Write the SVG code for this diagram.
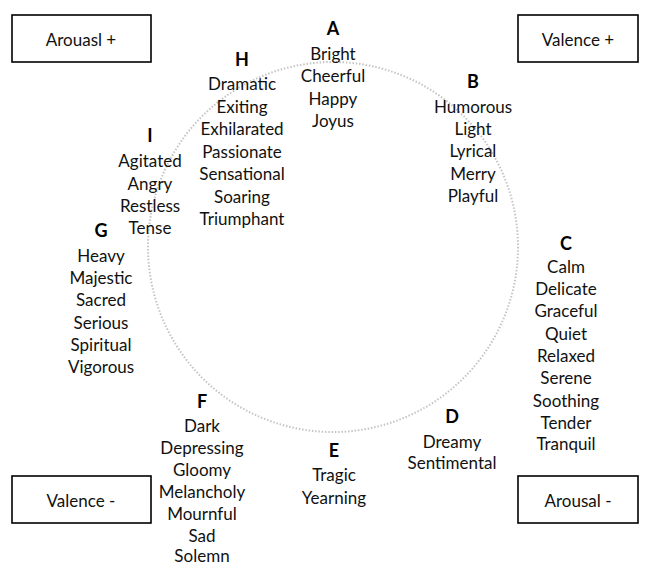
<svg xmlns="http://www.w3.org/2000/svg" width="649" height="565" viewBox="0 0 649 565">
<style>
.t{font-family:Lato,"Liberation Sans",sans-serif;font-size:17px;fill:#111;text-anchor:middle;dominant-baseline:central}
.h{font-family:Lato,"Liberation Sans",sans-serif;font-size:18px;font-weight:bold;fill:#000;text-anchor:middle;dominant-baseline:central}
.box{fill:#fff;stroke:#000;stroke-width:1.6}
.circ{fill:none;stroke:#c4c4c4;stroke-width:2;stroke-dasharray:1.5 1.8}
</style>
<rect width="649" height="565" fill="#fff"/>
<g id="connectors">
<circle class="circ" cx="333" cy="247" r="185"/>
</g>
<g id="arousal-plus"><rect class="box" x="12" y="15" width="139" height="47"/><text class="t" x="81" y="39">Arouasl +</text></g>
<g id="valence-plus"><rect class="box" x="518" y="15" width="120" height="47"/><text class="t" x="578" y="39">Valence +</text></g>
<g id="valence-minus"><rect class="box" x="12" y="476" width="139" height="47"/><text class="t" x="81" y="500">Valence -</text></g>
<g id="arousal-minus"><rect class="box" x="518" y="476" width="120" height="47"/><text class="t" x="578" y="500">Arousal -</text></g>
<g id="A"><text class="h" x="333" y="28">A</text>
<text class="t" x="333" y="53">Bright</text><text class="t" x="333" y="75">Cheerful</text><text class="t" x="333" y="98">Happy</text><text class="t" x="333" y="120">Joyus</text></g>
<g id="B"><text class="h" x="473" y="81">B</text>
<text class="t" x="473" y="106">Humorous</text><text class="t" x="473" y="128">Light</text><text class="t" x="473" y="150">Lyrical</text><text class="t" x="473" y="173">Merry</text><text class="t" x="473" y="195">Playful</text></g>
<g id="C"><text class="h" x="566" y="243">C</text>
<text class="t" x="566" y="266">Calm</text><text class="t" x="566" y="288">Delicate</text><text class="t" x="566" y="310">Graceful</text><text class="t" x="566" y="333">Quiet</text><text class="t" x="566" y="355">Relaxed</text><text class="t" x="566" y="377">Serene</text><text class="t" x="566" y="400">Soothing</text><text class="t" x="566" y="422">Tender</text><text class="t" x="566" y="443">Tranquil</text></g>
<g id="D"><text class="h" x="452" y="416">D</text>
<text class="t" x="452" y="441">Dreamy</text><text class="t" x="452" y="462">Sentimental</text></g>
<g id="E"><text class="h" x="334" y="450">E</text>
<text class="t" x="334" y="474">Tragic</text><text class="t" x="334" y="497">Yearning</text></g>
<g id="F"><text class="h" x="202" y="401">F</text>
<text class="t" x="202" y="425">Dark</text><text class="t" x="202" y="447">Depressing</text><text class="t" x="202" y="469">Gloomy</text><text class="t" x="202" y="491">Melancholy</text><text class="t" x="202" y="513">Mournful</text><text class="t" x="202" y="535">Sad</text><text class="t" x="202" y="555">Solemn</text></g>
<g id="G"><text class="h" x="101" y="230">G</text>
<text class="t" x="101" y="255">Heavy</text><text class="t" x="101" y="277">Majestic</text><text class="t" x="101" y="299">Sacred</text><text class="t" x="101" y="322">Serious</text><text class="t" x="101" y="344">Spiritual</text><text class="t" x="101" y="366">Vigorous</text></g>
<g id="H"><text class="h" x="242" y="59">H</text>
<text class="t" x="242" y="83">Dramatic</text><text class="t" x="242" y="106">Exiting</text><text class="t" x="242" y="128">Exhilarated</text><text class="t" x="242" y="151">Passionate</text><text class="t" x="242" y="173">Sensational</text><text class="t" x="242" y="196">Soaring</text><text class="t" x="242" y="218">Triumphant</text></g>
<g id="I"><text class="h" x="150" y="135">I</text>
<text class="t" x="150" y="160">Agitated</text><text class="t" x="150" y="183">Angry</text><text class="t" x="150" y="205">Restless</text><text class="t" x="150" y="227">Tense</text></g>
</svg>
